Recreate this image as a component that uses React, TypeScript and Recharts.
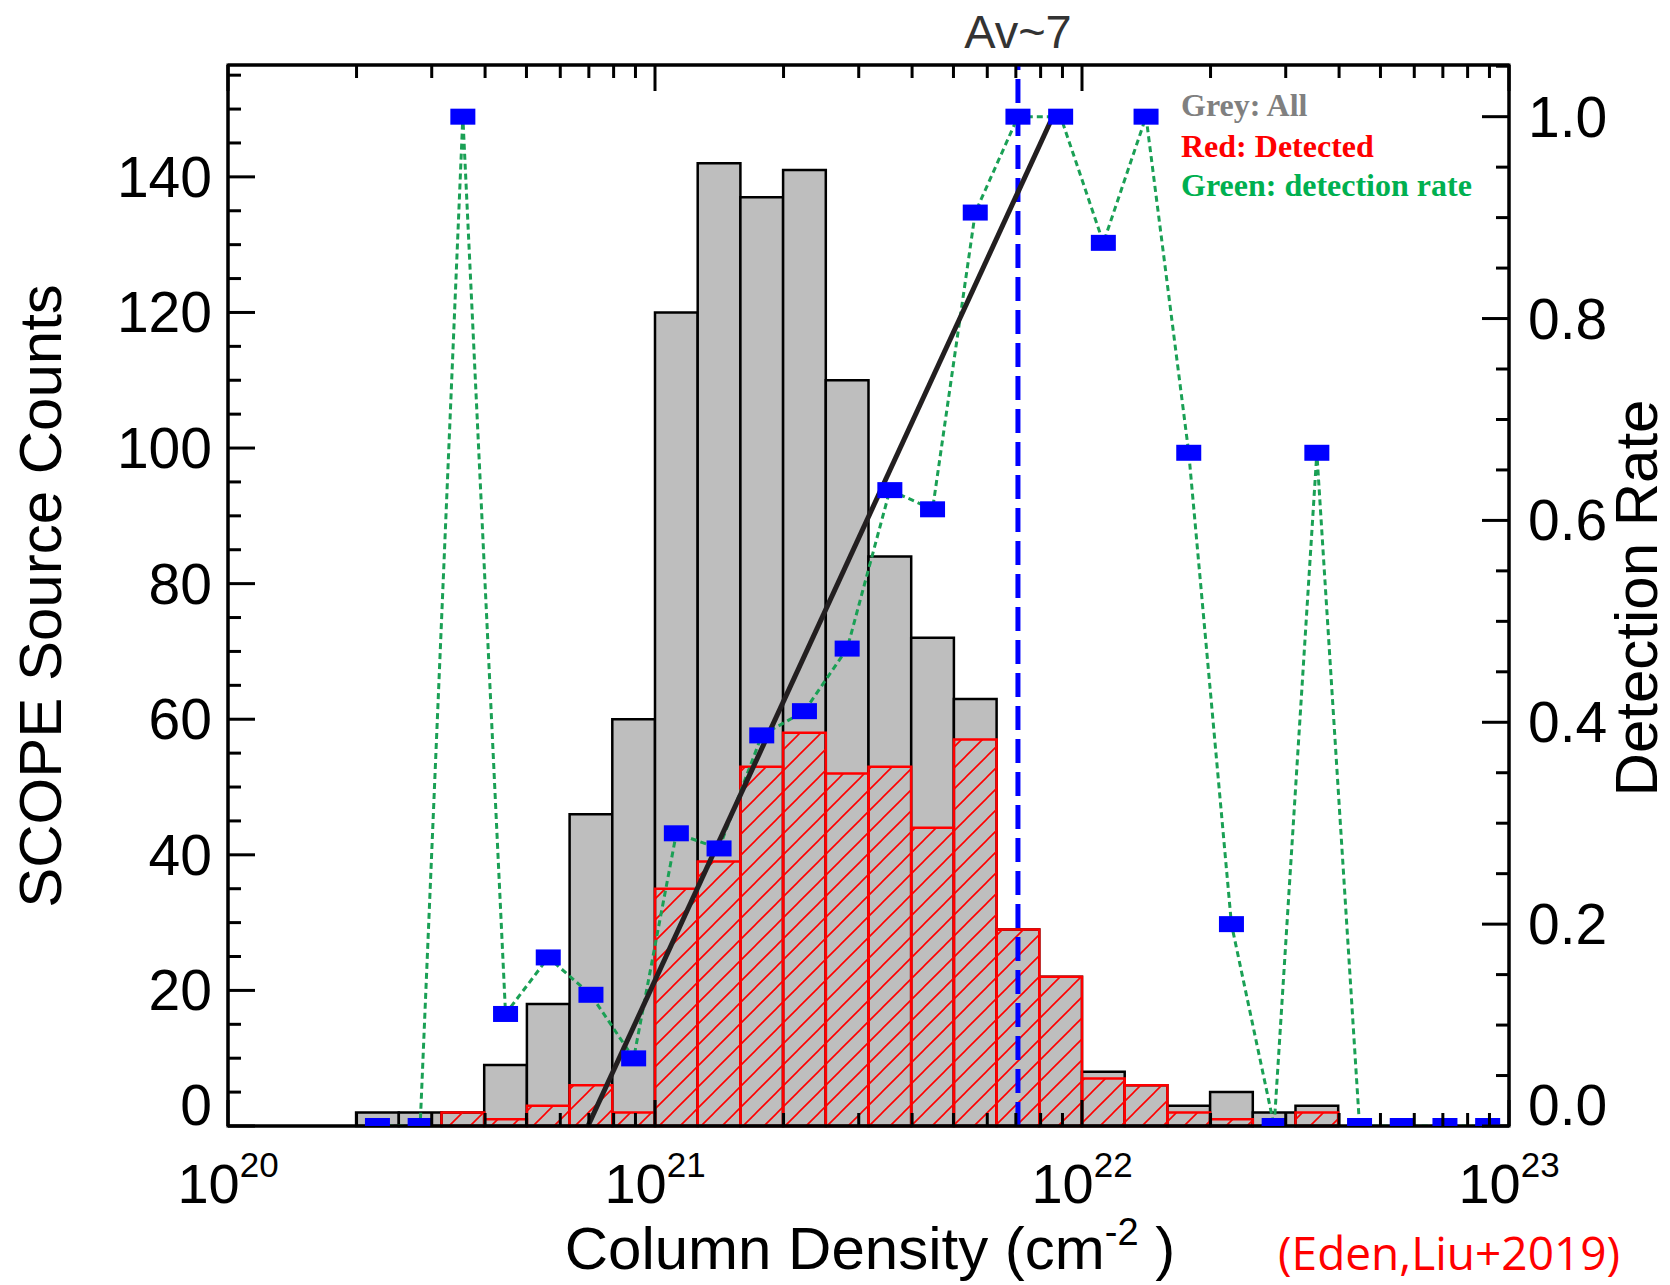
import { ComposedChart, Line, XAxis, YAxis, ReferenceArea, ReferenceLine } from 'recharts';

// log10 of the lower edge of each column-density bin (0.1 dex wide)
const binStartsLog = [
  20.3, 20.4, 20.5, 20.6, 20.7, 20.8, 20.9, 21.0, 21.1, 21.2, 21.3, 21.4, 21.5, 21.6,
  21.7, 21.8, 21.9, 22.0, 22.1, 22.2, 22.3, 22.4, 22.5, 22.6, 22.7, 22.8, 22.9,
];
const allCounts = [2, 2, 2, 9, 18, 46, 60, 120, 142, 137, 141, 110, 84, 72, 63, 29, 22, 8, 6, 3, 5, 2, 3, 0, 0, 0, 0];
const detectedCounts = [0, 0, 2, 1, 3, 6, 2, 35, 39, 53, 58, 52, 53, 44, 57, 29, 22, 7, 6, 2, 1, 0, 2, 0, 0, 0, 0];
const detectionRate = [
  0, 0, 1, 0.111, 0.167, 0.13, 0.067, 0.29, 0.275, 0.387, 0.411, 0.473, 0.63, 0.611,
  0.905, 1, 1, 0.875, 1, 0.667, 0.2, 0, 0.667, 0, 0, 0, 0,
];

// straight fit of the rising detection rate
const fitLogN = [20.843, 21.926];
const fitRate = [0, 0.995];

// Av ~ 7 threshold
const avLineLogN = 21.85;

const decadeTicks = [1e20, 1e21, 1e22, 1e23];
const minorMantissas = [2, 3, 4, 5, 6, 7, 8, 9];
const countTicks = [0, 20, 40, 60, 80, 100, 120, 140];
const rateTicks = [0, 0.2, 0.4, 0.6, 0.8, 1.0];

const X_MIN = 1e20;
const X_MAX = 1e23;
const COUNT_MAX = 156.5;
const RATE_MAX = 1.0512;
const BIN_DEX = 0.1;

const bins = binStartsLog.map((lo, i) => ({
  lo: Math.pow(10, lo),
  hi: Math.pow(10, lo + BIN_DEX),
  n: Math.pow(10, lo + BIN_DEX / 2),
  all: allCounts[i],
  detected: detectedCounts[i],
  rate: detectionRate[i],
}));
const fitData = fitLogN.map((l, i) => ({ n: Math.pow(10, l), rate: fitRate[i] }));

const xTicks = decadeTicks.flatMap((d, i) =>
  i === decadeTicks.length - 1 ? [d] : [d, ...minorMantissas.map((m) => m * d)]
);
const countAllTicks = countTicks.flatMap((v) => [v, v + 5, v + 10, v + 15]).filter((v) => v <= COUNT_MAX);
const rateAllTicks = rateTicks
  .flatMap((v) => [v, v + 0.05, v + 0.1, v + 0.15])
  .filter((v) => v <= RATE_MAX + 1e-9);

const SANS = '"Liberation Sans", Arial, Helvetica, sans-serif';
const SERIF = '"Liberation Serif", "Times New Roman", serif';
const AXIS_W = 3;

const isDecade = (v: number) => {
  const l = Math.log10(v);
  return Math.abs(l - Math.round(l)) < 1e-6;
};

function BottomTick({ x, y, payload }: any) {
  const v = payload.value;
  const major = isDecade(v);
  return (
    <g>
      <line x1={x} y1={y} x2={x} y2={y - (major ? 26 : 13)} stroke="#000" strokeWidth={AXIS_W} />
      {major && (
        <text x={x} y={y + 77} textAnchor="middle" fontSize={56} fontFamily={SANS} fill="#000">
          10
          <tspan dy={-26} fontSize={35}>
            {Math.round(Math.log10(v))}
          </tspan>
        </text>
      )}
    </g>
  );
}

function TopTick({ x, y, payload }: any) {
  const major = isDecade(payload.value);
  return <line x1={x} y1={y} x2={x} y2={y + (major ? 26 : 13)} stroke="#000" strokeWidth={AXIS_W} />;
}

function LeftTick({ x, y, payload }: any) {
  const v = payload.value;
  const major = countTicks.some((t) => Math.abs(t - v) < 1e-6);
  return (
    <g>
      <line x1={x} y1={y} x2={x + (major ? 27 : 13)} y2={y} stroke="#000" strokeWidth={AXIS_W} />
      {major && (
        <text
          x={x - 16}
          y={v === 0 ? y - 21 : y}
          textAnchor="end"
          dominantBaseline="central"
          fontSize={57}
          fontFamily={SANS}
          fill="#000"
        >
          {v}
        </text>
      )}
    </g>
  );
}

function RightTick({ x, y, payload }: any) {
  const v = payload.value;
  const major = rateTicks.some((t) => Math.abs(t - v) < 1e-6);
  return (
    <g>
      <line x1={x} y1={y} x2={x - (major ? 27 : 13)} y2={y} stroke="#000" strokeWidth={AXIS_W} />
      {major && (
        <text
          x={x + 19}
          y={v === 0 ? y - 21 : y}
          textAnchor="start"
          dominantBaseline="central"
          fontSize={57}
          fontFamily={SANS}
          fill="#000"
        >
          {v.toFixed(1)}
        </text>
      )}
    </g>
  );
}

function RateMarker(props: any) {
  const { cx, cy, index } = props;
  if (cx == null || cy == null) return <g key={`m-${index}`} />;
  return <rect key={`m-${index}`} x={cx - 12.5} y={cy - 8} width={25} height={16} fill="#0000ff" />;
}

export default function App() {
  return (
    <div style={{ position: 'absolute', left: 0, top: 0, width: 1670, height: 1285, background: '#fff' }}>
      <ComposedChart width={1670} height={1285} data={bins} margin={{ top: 64, right: 0, bottom: 0, left: 0 }}>
        <XAxis
          xAxisId="bottom"
          dataKey="n"
          type="number"
          scale="log"
          domain={[X_MIN, X_MAX]}
          allowDataOverflow
          ticks={xTicks}
          interval={0}
          height={159}
          tickSize={0}
          tickMargin={0}
          tickLine={false}
          axisLine={{ stroke: '#000', strokeWidth: AXIS_W }}
          tick={BottomTick}
        />
        <XAxis
          xAxisId="top"
          orientation="top"
          dataKey="n"
          type="number"
          scale="log"
          domain={[X_MIN, X_MAX]}
          allowDataOverflow
          ticks={xTicks}
          interval={0}
          height={1}
          tickSize={0}
          tickMargin={0}
          tickLine={false}
          axisLine={{ stroke: '#000', strokeWidth: AXIS_W }}
          tick={TopTick}
        />
        <YAxis
          yAxisId="left"
          type="number"
          domain={[0, COUNT_MAX]}
          allowDataOverflow
          ticks={countAllTicks}
          interval={0}
          width={228}
          tickSize={0}
          tickMargin={0}
          tickLine={false}
          axisLine={{ stroke: '#000', strokeWidth: AXIS_W }}
          tick={LeftTick}
        />
        <YAxis
          yAxisId="right"
          orientation="right"
          type="number"
          domain={[0, RATE_MAX]}
          allowDataOverflow
          ticks={rateAllTicks}
          interval={0}
          width={161}
          tickSize={0}
          tickMargin={0}
          tickLine={false}
          axisLine={{ stroke: '#000', strokeWidth: AXIS_W }}
          tick={RightTick}
        />

        {bins
          .filter((b) => b.all > 0)
          .map((b) => (
            <ReferenceArea
              key={`all-${b.lo}`}
              xAxisId="bottom"
              yAxisId="left"
              x1={b.lo}
              x2={b.hi}
              y1={0}
              y2={b.all}
              fill="#bebebe"
              fillOpacity={1}
              stroke="#000"
              strokeWidth={2.5}
            />
          ))}
        {bins
          .filter((b) => b.detected > 0)
          .map((b) => (
            <ReferenceArea
              key={`det-${b.lo}`}
              xAxisId="bottom"
              yAxisId="left"
              x1={b.lo}
              x2={b.hi}
              y1={0}
              y2={b.detected}
              fill="url(#redHatch)"
              fillOpacity={1}
              stroke="#ff0000"
              strokeWidth={2.5}
            />
          ))}

        <ReferenceLine
          xAxisId="bottom"
          yAxisId="left"
          x={Math.pow(10, avLineLogN)}
          stroke="#0000ff"
          strokeWidth={5}
          strokeDasharray="24 9"
          label={{ value: 'Av~7', position: 'top', offset: 17, fill: '#333', fontSize: 47, fontFamily: SANS }}
        />

        <Line
          xAxisId="bottom"
          yAxisId="right"
          dataKey="rate"
          type="linear"
          stroke="#1aa055"
          strokeWidth={3}
          strokeDasharray="6 4"
          dot={RateMarker}
          activeDot={false}
          isAnimationActive={false}
        />
        <Line
          xAxisId="top"
          yAxisId="right"
          data={fitData}
          dataKey="rate"
          type="linear"
          stroke="#231f20"
          strokeWidth={5}
          dot={false}
          activeDot={false}
          isAnimationActive={false}
        />

        {/* plot frame */}
        <ReferenceArea
          xAxisId="bottom"
          yAxisId="left"
          x1={X_MIN}
          x2={X_MAX}
          y1={0}
          y2={COUNT_MAX}
          fill="none"
          stroke="#000"
          strokeWidth={AXIS_W}
          ifOverflow="visible"
        />
      </ComposedChart>

      <svg
        width={1670}
        height={1285}
        style={{ position: 'absolute', left: 0, top: 0, pointerEvents: 'none' }}
      >
        <defs>
          <pattern id="redHatch" patternUnits="userSpaceOnUse" width={21} height={21}>
            <path
              d="M0,21 L21,0 M-5.25,5.25 L5.25,-5.25 M15.75,26.25 L26.25,15.75"
              stroke="#ff0000"
              strokeWidth={1.6}
            />
          </pattern>
        </defs>

        <text
          x={40}
          y={596}
          transform="rotate(-90 40 596)"
          textAnchor="middle"
          dominantBaseline="central"
          fontSize={60}
          fontFamily={SANS}
          fill="#000"
        >
          SCOPE Source Counts
        </text>
        <text
          x={1636}
          y={598}
          transform="rotate(-90 1636 598)"
          textAnchor="middle"
          dominantBaseline="central"
          fontSize={60}
          fontFamily={SANS}
          fill="#000"
        >
          Detection Rate
        </text>
        <text x={870} y={1269} textAnchor="middle" fontSize={60} fontFamily={SANS} fill="#000">
          Column Density (cm
          <tspan dy={-24} fontSize={38}>
            -2
          </tspan>
          <tspan dy={24}> )</tspan>
        </text>
        <text x={1278} y={1270} fontSize={46} fontFamily='"Open Sans", sans-serif' fill="#ff0000">
          (Eden,Liu+2019)
        </text>

        <g fontFamily={SERIF} fontWeight="bold" fontSize={32}>
          <text x={1181} y={116} fill="#808080">
            Grey: All
          </text>
          <text x={1181} y={157} fill="#ff0000">
            Red: Detected
          </text>
          <text x={1181} y={196} fill="#00b050">
            Green: detection rate
          </text>
        </g>
      </svg>
    </div>
  );
}
